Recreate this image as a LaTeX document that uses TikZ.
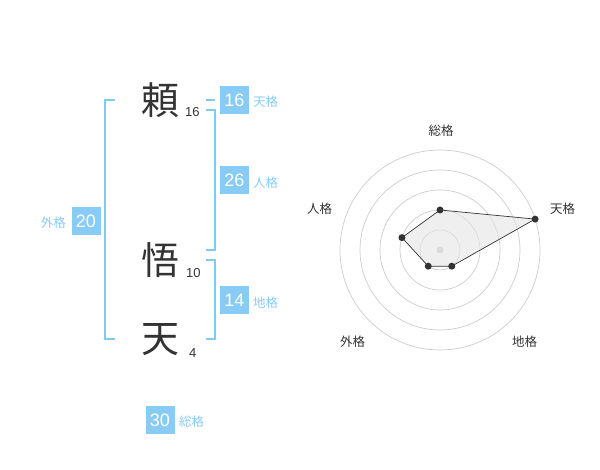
\documentclass[tikz,border=0pt]{standalone}
\usepackage{fontspec}
\setmainfont{Liberation Sans}
\newfontfamily\cjk{Noto Sans CJK JP}
\definecolor{bl}{HTML}{88CCF6}
\definecolor{bll}{HTML}{7FC9F5}
\definecolor{txt}{HTML}{333333}
\definecolor{grid}{HTML}{CCCCCC}
\begin{document}
\begin{tikzpicture}[x=1pt,y=-1pt,
  kanji/.style={font=\cjk\fontsize{38}{38}\selectfont, text=txt, inner sep=0},
  strk/.style={font=\fontsize{13}{13}\selectfont, text=txt, inner sep=0, anchor=base west},
  numbox/.style={fill=bl, text=white, minimum width=29pt, minimum height=28pt, inner sep=0, font=\fontsize{18}{18}\selectfont},
  kaku/.style={font=\cjk\fontsize{12.5}{12.5}\selectfont, text=bl, inner sep=0},
  brk/.style={draw=bll, line width=2pt},
  rlab/.style={font=\cjk\fontsize{12.5}{12.5}\selectfont, text=txt, inner sep=0},
  ring/.style={draw=grid, line width=0.7pt},
  pt/.style={circle, fill=txt, inner sep=0, minimum size=7pt}]
\useasboundingbox (0,0) rectangle (600,470);
% characters
\node[kanji] (k1) at (160,100) {頼};
\node[kanji] (k2) at (160,260) {悟};
\node[kanji] (k3) at (160,340) {天};
\node[strk] (s1) at (185,117) {16};
\node[strk] (s2) at (186,278) {10};
\node[strk] (s3) at (189,358) {4};
% brackets
\draw[brk] (115,100) -- (105,100) -- (105,339) -- (115,339);
\draw[brk] (206,100) -- (215,100);
\draw[brk] (206,110) -- (215,110) -- (215,250) -- (206,250);
\draw[brk] (206,260) -- (215,260) -- (215,339) -- (206,339);
% boxes
\node[numbox] (b16) at (234.5,100) {16};
\node[kaku, anchor=west] (l16) at (253,102) {天格};
\node[numbox] (b26) at (234.5,180) {26};
\node[kaku, anchor=west] (l26) at (253,183) {人格};
\node[numbox] (b14) at (234.5,300) {14};
\node[kaku, anchor=west] (l14) at (253,303) {地格};
\node[numbox] (b20) at (86,221) {20};
\node[kaku, anchor=east] (l20) at (66,223) {外格};
\node[numbox] (b30) at (160,420) {30};
\node[kaku, anchor=west] (l30) at (179,422) {総格};
% radar
\begin{scope}[shift={(440,250)}]
  \foreach \r in {20,40,60,80,100} \draw[ring] (0,0) circle[radius=\r];
  \fill[grid] (0,0) circle[radius=3.5];
  \coordinate (p1) at ({40*cos(90)},{-40*sin(90)});
  \coordinate (p2) at ({100*cos(18)},{-100*sin(18)});
  \coordinate (p3) at ({20*cos(-54)},{-20*sin(-54)});
  \coordinate (p4) at ({20*cos(-126)},{-20*sin(-126)});
  \coordinate (p5) at ({40*cos(162)},{-40*sin(162)});
  \fill[black!10, opacity=0.6] (p1) -- (p2) -- (p3) -- (p4) -- (p5) -- cycle;
  \draw[txt, line width=0.7pt] (p1) -- (p2) -- (p3) -- (p4) -- (p5) -- cycle;
  \foreach \p in {p1,p2,p3,p4,p5} \node[pt] (d\p) at (\p) {};
\end{scope}
\node[rlab] (r1) at (441,131) {総格};
\node[rlab] (r2) at (562.5,209) {天格};
\node[rlab] (r3) at (524.5,342) {地格};
\node[rlab] (r4) at (352.5,342) {外格};
\node[rlab] (r5) at (319.5,209) {人格};
\end{tikzpicture}
\end{document}
